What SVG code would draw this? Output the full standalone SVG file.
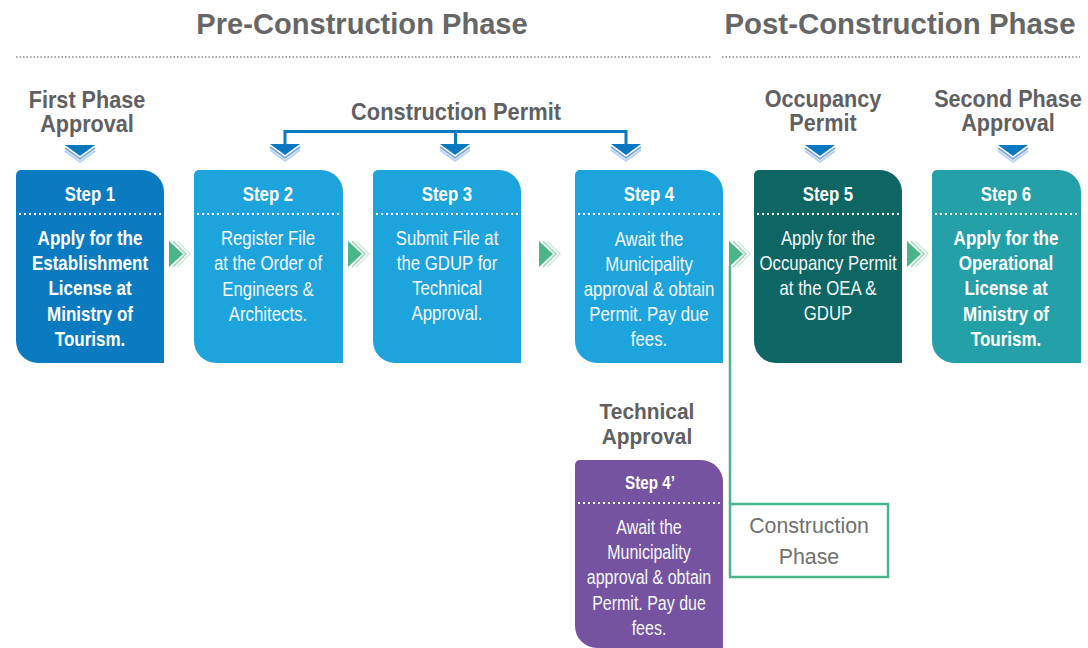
<svg xmlns="http://www.w3.org/2000/svg" width="1088" height="648" viewBox="0 0 1088 648">
<style>
.hdr{font-family:"Liberation Sans",Arial,sans-serif;font-weight:bold;font-size:30px;fill:#666666;text-anchor:middle}
.lbl{font-family:"Liberation Sans",Arial,sans-serif;font-weight:bold;font-size:23px;fill:#606062;text-anchor:middle}
.st{font-family:"Liberation Sans",Arial,sans-serif;font-weight:bold;font-size:21px;fill:#ffffff;text-anchor:middle}
.bb{font-family:"Liberation Sans",Arial,sans-serif;font-weight:bold;font-size:20px;fill:#ffffff;text-anchor:middle}
.bl{font-family:"Liberation Sans",Arial,sans-serif;font-size:20px;fill:#f4f8fb;text-anchor:middle}
.cp{font-family:"Liberation Sans",Arial,sans-serif;font-size:22px;fill:#707070;text-anchor:middle}
.dots{stroke:#ffffff;stroke-width:2;stroke-dasharray:2 3;fill:none}
.hd{stroke:#8a8a8a;stroke-width:1.5;stroke-dasharray:1.5 2;fill:none}
.brk{stroke:#0a7bc1;stroke-width:3;fill:none}
.grn{stroke:#4bb58a;stroke-width:2.5;fill:none}
</style>
<defs>
<g id="dn">
<polyline points="-15,6 0,17 15,6" fill="none" stroke="#b8d0ef" stroke-width="1.8"/>
<polyline points="-15,3 0,14 15,3" fill="none" stroke="#7aa8e0" stroke-width="1.8"/>
<polygon points="-15,0 15,0 0,11" fill="#0a78c0"/>
</g>
<g id="rt">
<polyline points="8,-13 21,0 8,13" fill="none" stroke="#d3ebdf" stroke-width="1.6"/>
<polyline points="4,-13 17,0 4,13" fill="none" stroke="#a2d6bd" stroke-width="1.6"/>
<polygon points="0,-13 14,0 0,13" fill="#4bb58a"/>
</g>
</defs>

<g id="header">
<text class="hdr" transform="translate(362 34) scale(0.97 1)" x="0" y="0">Pre-Construction Phase</text>
<text class="hdr" transform="translate(900 34) scale(0.98 1)" x="0" y="0">Post-Construction Phase</text>
<line class="hd" x1="16" y1="57" x2="712" y2="57"/>
<line class="hd" x1="722" y1="57" x2="1080" y2="57"/>
</g>

<g id="labels">
<g transform="translate(87 0) scale(0.94 1)"><text class="lbl" x="0" y="108">First Phase</text><text class="lbl" x="0" y="132">Approval</text></g>
<g transform="translate(456 0) scale(0.95 1)"><text class="lbl" x="0" y="120">Construction Permit</text></g>
<g transform="translate(823 0) scale(0.94 1)"><text class="lbl" x="0" y="107">Occupancy</text><text class="lbl" x="0" y="131">Permit</text></g>
<g transform="translate(1008 0) scale(0.94 1)"><text class="lbl" x="0" y="107">Second Phase</text><text class="lbl" x="0" y="131">Approval</text></g>
<g transform="translate(647 0) scale(0.95 1)"><text class="lbl" x="0" y="419" style="font-size:22px">Technical</text><text class="lbl" x="0" y="444" style="font-size:22px">Approval</text></g>
</g>

<g id="connectors">
<polyline class="brk" points="285,146 285,131.5 455.5,131.5 455.5,146"/>
<polyline class="brk" points="455.5,131.5 626,131.5 626,146"/>
<use href="#dn" x="80" y="145"/>
<use href="#dn" x="285" y="144"/>
<use href="#dn" x="455" y="144"/>
<use href="#dn" x="626" y="144"/>
<use href="#dn" x="820" y="145"/>
<use href="#dn" x="1013" y="145"/>
<use href="#rt" x="169" y="254"/>
<use href="#rt" x="348" y="254"/>
<use href="#rt" x="539" y="254"/>
<use href="#rt" x="729" y="254"/>
<use href="#rt" x="907" y="254"/>
<polyline class="grn" points="730,266 730,504"/>
</g>

<g id="step1">
<path d="M21,170 H142 A22,22 0 0 1 164,192 V363 H38 A22,22 0 0 1 16,341 V175 A5,5 0 0 1 21,170 Z" fill="#0a7bc1"/>
<line class="dots" x1="19" y1="214" x2="162" y2="214"/>
<g transform="translate(90 0) scale(0.8 1)"><text class="st" x="0" y="201">Step 1</text></g>
<g transform="translate(90 0) scale(0.85 1)">
<text class="bb" x="0" y="245">Apply for the</text>
<text class="bb" x="0" y="270">Establishment</text>
<text class="bb" x="0" y="295">License at</text>
<text class="bb" x="0" y="321">Ministry of</text>
<text class="bb" x="0" y="346">Tourism.</text>
</g>
</g>

<g id="step2">
<path d="M199,170 H321 A22,22 0 0 1 343,192 V363 H216 A22,22 0 0 1 194,341 V175 A5,5 0 0 1 199,170 Z" fill="#1ea4dd"/>
<line class="dots" x1="197" y1="214" x2="341" y2="214"/>
<g transform="translate(268 0) scale(0.8 1)"><text class="st" x="0" y="201">Step 2</text></g>
<g transform="translate(268 0) scale(0.84 1)">
<text class="bl" x="0" y="245">Register File</text>
<text class="bl" x="0" y="270">at the Order of</text>
<text class="bl" x="0" y="296">Engineers &amp;</text>
<text class="bl" x="0" y="321">Architects.</text>
</g>
</g>

<g id="step3">
<path d="M378,170 H499 A22,22 0 0 1 521,192 V363 H395 A22,22 0 0 1 373,341 V175 A5,5 0 0 1 378,170 Z" fill="#1ea4dd"/>
<line class="dots" x1="376" y1="214" x2="519" y2="214"/>
<g transform="translate(447 0) scale(0.8 1)"><text class="st" x="0" y="201">Step 3</text></g>
<g transform="translate(447 0) scale(0.84 1)">
<text class="bl" x="0" y="245">Submit File at</text>
<text class="bl" x="0" y="270">the GDUP for</text>
<text class="bl" x="0" y="295">Technical</text>
<text class="bl" x="0" y="320">Approval.</text>
</g>
</g>

<g id="step4">
<path d="M580,170 H701 A22,22 0 0 1 723,192 V363 H597 A22,22 0 0 1 575,341 V175 A5,5 0 0 1 580,170 Z" fill="#1ea4dd"/>
<line class="dots" x1="578" y1="214" x2="721" y2="214"/>
<g transform="translate(649 0) scale(0.8 1)"><text class="st" x="0" y="201">Step 4</text></g>
<g transform="translate(649 0) scale(0.84 1)">
<text class="bl" x="0" y="246">Await the</text>
<text class="bl" x="0" y="271">Municipality</text>
<text class="bl" x="0" y="296">approval &amp; obtain</text>
<text class="bl" x="0" y="321">Permit. Pay due</text>
<text class="bl" x="0" y="346">fees.</text>
</g>
</g>

<g id="step5">
<path d="M759,170 H880 A22,22 0 0 1 902,192 V363 H776 A22,22 0 0 1 754,341 V175 A5,5 0 0 1 759,170 Z" fill="#0d6663"/>
<line class="dots" x1="757" y1="214" x2="900" y2="214"/>
<g transform="translate(828 0) scale(0.8 1)"><text class="st" x="0" y="201">Step 5</text></g>
<g transform="translate(828 0) scale(0.84 1)">
<text class="bl" x="0" y="245">Apply for the</text>
<text class="bl" x="0" y="270">Occupancy Permit</text>
<text class="bl" x="0" y="295">at the OEA &amp;</text>
<text class="bl" x="0" y="320">GDUP</text>
</g>
</g>

<g id="step6">
<path d="M937,170 H1059 A22,22 0 0 1 1081,192 V363 H954 A22,22 0 0 1 932,341 V175 A5,5 0 0 1 937,170 Z" fill="#24a0a8"/>
<line class="dots" x1="935" y1="214" x2="1079" y2="214"/>
<g transform="translate(1006 0) scale(0.8 1)"><text class="st" x="0" y="201">Step 6</text></g>
<g transform="translate(1006 0) scale(0.85 1)">
<text class="bb" x="0" y="245">Apply for the</text>
<text class="bb" x="0" y="270">Operational</text>
<text class="bb" x="0" y="295">License at</text>
<text class="bb" x="0" y="321">Ministry of</text>
<text class="bb" x="0" y="346">Tourism.</text>
</g>
</g>

<g id="step4b">
<path d="M580,460 H701 A22,22 0 0 1 723,482 V648 H597 A22,22 0 0 1 575,626 V465 A5,5 0 0 1 580,460 Z" fill="#7553a1"/>
<line class="dots" x1="578" y1="503" x2="721" y2="503"/>
<g transform="translate(650 0) scale(0.8 1)"><text class="st" x="0" y="489" style="font-size:19px">Step 4’</text></g>
<g transform="translate(649 0) scale(0.82 1)">
<text class="bl" x="0" y="534" style="font-size:19.5px">Await the</text>
<text class="bl" x="0" y="559" style="font-size:19.5px">Municipality</text>
<text class="bl" x="0" y="584" style="font-size:19.5px">approval &amp; obtain</text>
<text class="bl" x="0" y="610" style="font-size:19.5px">Permit. Pay due</text>
<text class="bl" x="0" y="635" style="font-size:19.5px">fees.</text>
</g>
</g>

<g id="construction-phase">
<rect class="grn" x="730" y="504" width="158" height="73"/>
<text class="cp" transform="translate(809 0) scale(0.97 1)" x="0" y="533">Construction</text>
<text class="cp" transform="translate(809 0) scale(0.97 1)" x="0" y="564">Phase</text>
</g>
</svg>
